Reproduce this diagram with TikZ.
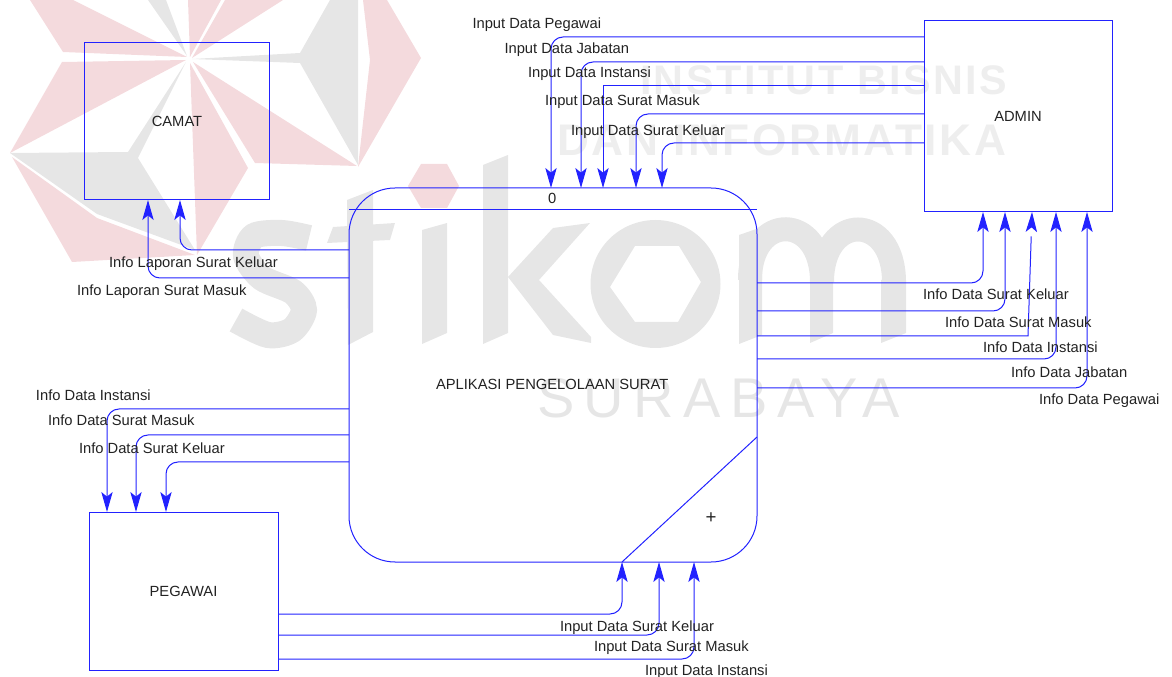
\documentclass[tikz,border=0pt]{standalone}
\usepackage{fontspec}
\setmainfont{Liberation Sans}
\newfontfamily\wmbold[LetterSpace=6]{Liberation Sans}
\newfontfamily\wmthin[LetterSpace=17]{Liberation Sans}
\usetikzlibrary{arrows.meta}
\definecolor{flowblue}{HTML}{2222FF}
\definecolor{wmred}{HTML}{F4DADD}
\definecolor{wmgrey}{HTML}{E6E6E6}
\definecolor{wmtext}{HTML}{EEEEEE}
\definecolor{inkc}{HTML}{222222}
\tikzset{
  every node/.style={inner sep=0pt,outer sep=0pt,text=inkc,font=\fontsize{11.05}{13}\selectfont},
  boxnode/.style={draw=flowblue,line width=.75pt,rectangle},
  procnode/.style={draw=flowblue,line width=.75pt,rectangle,rounded corners=34.5pt},
  flow/.style={draw=flowblue,line width=.75pt,rounded corners=9pt,-{Stealth[length=15pt,width=8.5pt,inset=3.5pt,flowblue]}},
  sharpflow/.style={flow,rounded corners=0pt},
  divider/.style={draw=flowblue,line width=.75pt},
  lab/.style={anchor=base west,yshift=-.75pt},
  wr/.style={fill=wmred,draw=none},
  wg/.style={fill=wmgrey,draw=none},
}
\begin{document}
\begin{tikzpicture}[x=.75pt,y=-.75pt]
\useasboundingbox (0,0) rectangle (1172,677);
% watermark logo
\path[wr] (30,0) -- (73,0) -- (187,57) -- (63,52) -- cycle;
\path[wr] (62,62) -- (186,60) -- (10,153) -- cycle;
\path[wr] (188,0) -- (221,0) -- (190,57) -- cycle;
\path[wr] (225,0) -- (283,0) -- (192,58) -- cycle;
\path[wr] (363,0) -- (387,0) -- (421,58) -- (358,167) -- (370,60) -- cycle;
\path[wr] (193,62) -- (357,166) -- (255,163) -- cycle;
\path[wr] (190,63) -- (248,168) -- (197,255) -- cycle;
\path[wr] (12,157) -- (97,218) -- (195,255) -- (72,262) -- cycle;
\path[wr] (408,186) -- (421,164) -- (447,164) -- (459,186) -- (447,208) -- (421,208) -- cycle;
\path[wg] (148,0) -- (166,0) -- (187,56) -- cycle;
\path[wg] (330,0) -- (358,0) -- (358,165) -- (300,63) -- (192,59) -- (300,53) -- cycle;
\path[wg] (186,62) -- (128,152) -- (10,153) -- (97,214) -- (195,250) -- (138,158) -- cycle;
% watermark letters
\draw[wmgrey,line width=19.5pt,line cap=butt] plot[smooth] coordinates {(309,238) (282,233) (254,236) (246,256) (262,278) (293,292) (304,310) (292,330) (268,335) (236,320)};
\path[wg] (347,200) -- (373,190) -- (373,332) -- (348,345) -- cycle;
\path[wg] (327,243) -- (333,227) -- (395,223) -- (390,240) -- cycle;
\path[wg] (422,230) -- (447,223) -- (447,333) -- (422,344) -- cycle;
\path[wg] (483,165) -- (508,155) -- (508,333) -- (483,344) -- cycle;
\path[wg] (553,228) -- (590,223) -- (539,280) -- (591,337) -- (591,343) -- (553,335) -- (508,277) -- cycle;
\path[wg,even odd rule] (655.5,284) ellipse [x radius=65,y radius=64] (610,287) -- (635,246) -- (679,246) -- (701,282) -- (678,322) -- (635,322) -- cycle;
\path[wg] (739,235) -- (762,227) -- (762,335) -- (739,344) -- cycle;
\path[wg] (810,280) -- (833,280) -- (833,333) -- (810,343) -- cycle;
\path[wg] (881,280) -- (906,280) -- (906,333) -- (881,343) -- cycle;
\draw[wmgrey,line width=18pt] (750,280) .. controls (750,212) and (822,212) .. (822,282);
\draw[wmgrey,line width=18pt] (822,282) .. controls (822,212) and (894,212) .. (894,282);
\node[name=wmone,anchor=base west,text=wmtext,font=\wmbold\bfseries\fontsize{31}{33}\selectfont] at (640,95) {INSTITUT BISNIS};
\node[name=wmtwo,anchor=base west,text=wmtext,font=\wmbold\bfseries\fontsize{33.2}{36}\selectfont] at (557,156) {DAN INFORMATIKA};
\node[name=wmthree,anchor=base west,text=wmgrey,font=\wmthin\fontsize{42}{44}\selectfont] at (537,417) {SURABAYA};
% boxes
\node[boxnode,minimum width=138.75pt,minimum height=117.75pt,name=camat] at (177,121.5) {CAMAT\hspace{2pt}};
\node[boxnode,minimum width=141pt,minimum height=143.25pt,name=admin] at (1018,116.5) {ADMIN\hspace{1.5pt}};
\node[boxnode,minimum width=141.75pt,minimum height=118.5pt,name=peg] at (183.5,591) {PEGAWAI\hspace{1pt}};
\node[procnode,minimum width=306pt,minimum height=280.5pt,name=proc] at (553,375) {};
\draw[divider] (proc.west |- 0,210) -- (proc.east |- 0,210);
\draw[divider] (proc.east |- 0,437) -- (proc.south -| 622,0);
\node[lab,name=pname] at (436,389) {APLIKASI PENGELOLAAN SURAT};
\node[lab,name=pnum] at (548,203) {0};
\node[name=pplus,font=\fontsize{14}{14}\selectfont] at (711,518) {+};
% admin to process
\draw[flow] (admin.west |- 0,37) -| (proc.north -| 551,0);
\draw[flow] (admin.west |- 0,62) -| (proc.north -| 581,0);
\draw[sharpflow,dash pattern=on 340 off 10 on 10 off 12 on 400] (admin.west |- 0,86) -| (proc.north -| 603,0);
\draw[flow] (admin.west |- 0,114) -| (proc.north -| 636,0);
\draw[flow] (admin.west |- 0,143) -| (proc.north -| 662,0);
% process to admin
\draw[flow] (proc.east |- 0,283) -| (admin.south -| 983,0);
\draw[flow] (proc.east |- 0,311) -| (admin.south -| 1005,0);
\draw[sharpflow,dash pattern=on 278 off 14 on 13 off 16 on 400] (proc.east |- 0,336) -- (1028,336) -- (admin.south -| 1032,0);
\draw[flow] (proc.east |- 0,359) -| (admin.south -| 1056,0);
\draw[flow] (proc.east |- 0,388) -| (admin.south -| 1087,0);
% process to camat
\draw[flow] (proc.west |- 0,250) -| (camat.south -| 180,0);
\draw[flow] (proc.west |- 0,278) -| (camat.south -| 148,0);
% process to pegawai
\draw[flow] (proc.west |- 0,409) -| (peg.north -| 107,0);
\draw[flow] (proc.west |- 0,435) -| (peg.north -| 136,0);
\draw[flow] (proc.west |- 0,462) -| (peg.north -| 166,0);
% pegawai to process
\draw[flow] (peg.east |- 0,614) -| (proc.south -| 622,0);
\draw[flow] (peg.east |- 0,635) -| (proc.south -| 659,0);
\draw[flow] (peg.east |- 0,659) -| (proc.south -| 694,0);
% labels
\node[lab,name=l1] at (472.5,28) {Input Data Pegawai};
\node[lab,name=l2] at (504.5,53) {Input Data Jabatan};
\node[lab,name=l3] at (528,77) {Input Data Instansi};
\node[lab,name=l4] at (545,105) {Input Data Surat Masuk};
\node[lab,name=l5] at (571,135) {Input Data Surat Keluar};
\node[lab,name=r1] at (923,299) {Info Data Surat Keluar};
\node[lab,name=r2] at (945,327) {Info Data Surat Masuk};
\node[lab,name=r3] at (983,352) {Info Data Instansi};
\node[lab,name=r4] at (1011,377) {Info Data Jabatan};
\node[lab,name=r5] at (1039,404) {Info Data Pegawai};
\node[lab,name=c1] at (109,267) {Info Laporan Surat Keluar};
\node[lab,name=c2] at (77,295) {Info Laporan Surat Masuk};
\node[lab,name=p1] at (36,400) {Info Data Instansi};
\node[lab,name=p2] at (48,425) {Info Data Surat Masuk};
\node[lab,name=p3] at (79,453) {Info Data Surat Keluar};
\node[lab,name=b1] at (560,630) {Input Data Surat Keluar};
\node[lab,name=b2] at (594,650) {Input Data Surat Masuk};
\node[lab,name=b3] at (645,674) {Input Data Instansi};
\end{tikzpicture}
\end{document}
